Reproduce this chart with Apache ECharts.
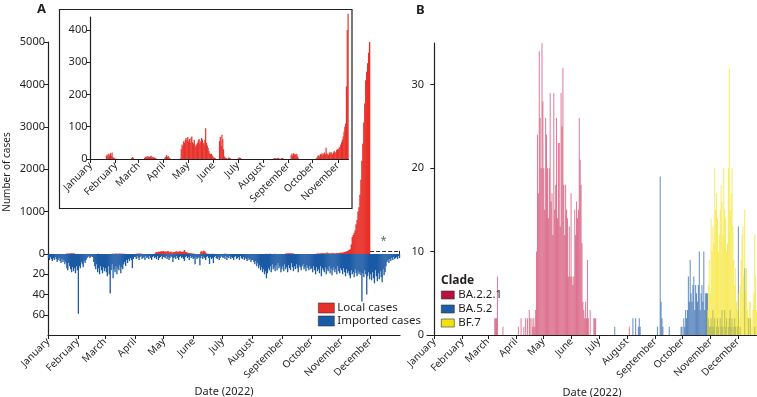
<!DOCTYPE html>
<html>
<head>
<meta charset="utf-8">
<script src="https://cdn.jsdelivr.net/npm/echarts@6/dist/echarts.min.js"></script>
<style>
  html, body { margin: 0; padding: 0; background: #fff; }
  #main { width: 757px; height: 397px; }
</style>
</head>
<body>
<div id="main"></div>
<script>
var chart = echarts.init(document.getElementById('main'));

// month names and first day of each month (day index in 2022)
var months = ['January', 'February', 'March', 'April', 'May', 'June', 'July',
  'August', 'September', 'October', 'November', 'December'];
var monthStart = [0, 31, 59, 90, 120, 151, 181, 212, 243, 273, 304, 334];

// daily local cases, one list per month
var localCases = [
  [0,0,0,0,0,0,0,0,0,0,0,0,0,0,0,0,0,0,0,10,14,8,16,12,18,10,20,6,4,2,1],
  [1,0,0,0,0,0,0,0,0,0,0,0,0,0,0,0,0,0,0,2,6,3,0,0,0,0,0,0],
  [0,0,0,0,0,0,0,3,6,8,5,9,7,6,8,10,7,5,6,4,3,2,0,0,0,0,0,0,0,0,0],
  [0,4,8,12,6,9,5,3,0,0,0,0,0,0,0,0,0,0,0,0,2,30,45,40,55,50,60,65,58,68],
  [55,62,50,66,70,52,48,60,42,38,45,50,58,62,48,55,65,60,50,45,60,95,50,42,35,25,18,15,16,12,8],
  [5,4,2,0,0,0,0,55,68,40,75,62,30,8,5,3,2,0,4,5,3,0,0,0,0,0,0,0,0,0],
  [2,5,4,3],
  [0,0,0,0,0,0,0,0,0,0,0,0,0,2,3,2,0,3,4,2,0,0,2,3,2],
  [0,0,0,12,16,10,18,14,15,12,16,8,2],
  [0,0,0,0,2,5,10,12,8,15,14,18,12,16,20,14,35,18,15,12,20,16,22,18,14,20,25,18,22,28,30],
  [30,35,38,45,52,60,70,85,100,110,225,400,450,500,560,700,800,1000,1100,1400,1750,2200,2600,3100,3550,4100,4300,4500,4750,5040],
  []
];

// daily imported cases, one list per month
var importedCases = [
  [4,6,3,5,7,4,6,3,5,8,6,4,7,9,5,8,6,10,8,14,16,9,12,15,18,13,17,14,19,12,16],
  [59,12,14,8,10,13,7,9,6,4,3,2,4,3,2,3,8,12,15,10,18,14,20,12,16,19,13,17],
  [14,18,22,12,20,39,16,10,24,15,18,12,20,14,16,11,19,13,15,10,8,12,6,9,5,7,4,6,14,5,3],
  [3,5,2,4,6,3,2,5,4,3,6,2,4,3,5,2,4,6,3,2,4,3,5,2,6,4,3,2,5,3],
  [3,4,2,5,3,6,4,2,3,8,4,3,5,2,4,6,3,2,4,3,5,7,3,2,4,3,6,2,4,3,5],
  [4,10,3,5,4,3,11,4,2,5,3,4,6,3,2,4,10,3,5,4,9,3,2,4,5,3,6,4,2,3],
  [4,3,5,2,6,3,4,2,5,3,4,6,3,2,5,4,3,6,2,4,5,3,6,4,5,7,4,6,5,8,6],
  [6,8,10,7,12,9,14,11,16,13,18,15,20,17,24,19,14,16,12,18,10,15,13,17,11,16,9,14,12,18,15],
  [12,17,10,15,13,18,11,14,16,9,13,17,12,15,10,14,18,11,13,16,12,10,15,13,17,11,14,16,12,15],
  [14,18,12,16,20,13,17,15,19,12,22,14,16,18,13,20,15,17,12,19,14,21,16,13,18,15,20,12,17,19,14],
  [16,20,14,18,22,15,19,17,21,24,16,20,18,23,15,19,22,17,20,18,21,47,19,23,16,20,40,22,18,25],
  [20,26,18,24,29,16,22,27,19,25,17,23,28,15,21,18,12,8,6,9,5,7,4,6,3,5,4,3,5,2,4]
];

// daily sequenced cases by clade, one list per month
var ba221 = [
  [], [],
  [0,0,0,0,0,0,0,2,2,2,7,0,0,0,0,0,1],
  [0,0,1,0,0,2,0,0,1,0,2,0,2,0,3,2,0,2,1,2,1,3,10,24,17,34,26,20,35,28],
  [20,15,26,24,20,14,20,29,16,17,12,29,15,18,26,14,23,23,13,29,25,32,18,12,18,15,14,7,13,7,17],
  [7,6,7,15,12,16,14,15,26,21,18,11,4,3,2,4,2,9,2,0,3,0,0,0,2,2,2],
  [],
  [0,0,1],
  [], [], [], []
];
var ba52 = [
  [], [], [], [], [], [],
  [0,0,0,0,0,0,0,0,0,0,0,0,0,0,0,0,0,1],
  [0,0,0,0,0,0,2,0,0,2,0,0,1,2,1],
  [0,0,1,0,0,19,4,2,1,0,0,0,0,0,0,1,0,0,0,0,0,0,0,0,0,0,0,0,1,1],
  [0,2,1,3,2,3,7,4,9,5,4,6,7,3,6,5,4,6,10,3,5,6,4,10,3,5,5,5,2,1,1],
  [2,1,3,1,2,0,1,2,1,0,2,1,3,1,0,3,1,2,0,1,2,3,1,2,0,1,2,1,0,1],
  [13,0,1,0,0,0,0,8,0,0,0,2,0,2,0,0,0,0,1]
];
var bf7 = [
  [], [], [], [], [], [], [], [], [],
  [0,0,0,0,0,0,0,0,0,0,0,0,0,0,0,0,0,0,0,0,0,0,0,0,0,0,0,3,6,9,5],
  [14,10,13,11,20,15,17,14,10,12,15,18,16,12,20,15,14,10,11,20,32,15,17,20,13,9,6,8,4,3],
  [5,2,6,9,12,13,7,15,5,8,3,2,4,4,2,1,3,5,12,7,3]
];

// [day, value] pairs for the bars, centred on each day
function toPoints(byMonth) {
  var pts = [];
  byMonth.forEach(function(days, m) {
    days.forEach(function(v, i) {
      if (v > 0) pts.push([monthStart[m] + i + 0.5, v]);
    });
  });
  return pts;
}

var font = 'Noto Sans';
var ink = '#231f20';
var axisLine = { show: true, lineStyle: { color: ink, width: 1.2 } };

function monthAxis(gridIndex, min, max, ticks, opts) {
  var ax = {
    type: 'value', gridIndex: gridIndex, min: min, max: max,
    splitLine: { show: false },
    axisLine: { show: true, onZero: false, lineStyle: { color: ink, width: 1.2 } },
    axisTick: { show: true, length: 4, customValues: ticks, lineStyle: { color: ink } },
    axisLabel: {
      customValues: ticks, rotate: 45, margin: 5,
      fontFamily: font, fontSize: 10, color: ink,
      formatter: function(v) { return months[monthStart.indexOf(v)]; }
    }
  };
  return Object.assign(ax, opts || {});
}

function countAxis(gridIndex, max, labels, opts) {
  var ax = {
    type: 'value', gridIndex: gridIndex, min: 0, max: max,
    splitLine: { show: false },
    axisLine: axisLine,
    axisTick: { show: true, length: 4, customValues: labels, lineStyle: { color: ink } },
    axisLabel: {
      customValues: labels, margin: 3, fontFamily: font, fontSize: 11, color: ink,
      formatter: function(v) { return String(v); }
    }
  };
  return Object.assign(ax, opts || {});
}

function gridAt(left, top, width, height) {
  return { left: left, top: top, width: width, height: height,
    containLabel: false, outerBoundsMode: 'none' };
}

var localPts = toPoints(localCases);
var dateName = {
  name: 'Date (2022)', nameLocation: 'middle', nameGap: 51,
  nameTextStyle: { fontFamily: font, fontSize: 11, color: ink }
};

option = {
  animation: false,
  backgroundColor: '#fff',
  title: [
    { text: 'A', left: 32, top: -2, textStyle: { fontFamily: font, fontSize: 13, fontWeight: 'bold', color: ink } },
    { text: 'B', left: 411, top: -1, textStyle: { fontFamily: font, fontSize: 13, fontWeight: 'bold', color: ink } },
    { text: 'Clade', left: 436, top: 270, textStyle: { fontFamily: font, fontSize: 12, fontWeight: 'bold', color: ink } }
  ],
  legend: [
    {
      data: ['Local cases', 'Imported cases'],
      orient: 'vertical', left: 313, top: 297,
      itemWidth: 16, itemHeight: 10, itemGap: 1, icon: 'rect',
      selectedMode: false,
      itemStyle: { borderColor: '#333', borderWidth: 0.6 },
      textStyle: { fontFamily: font, fontSize: 11.5, color: ink, padding: [0, 0, 0, -2] }
    },
    {
      data: [
        { name: 'BA.2.2.1', itemStyle: { color: '#b8123e', opacity: 1 } },
        { name: 'BA.5.2', itemStyle: { color: '#1f5ca8', opacity: 1 } },
        { name: 'BF.7', itemStyle: { color: '#f5e00f', opacity: 1 } }
      ],
      orient: 'vertical', left: 436, top: 284,
      itemWidth: 13, itemHeight: 8, itemGap: 2, icon: 'rect',
      selectedMode: false,
      itemStyle: { borderColor: '#333', borderWidth: 0.6 },
      textStyle: { fontFamily: font, fontSize: 11.5, color: ink, padding: [0, 0, 0, -1] }
    }
  ],
  graphic: [
    {
      type: 'rect', shape: { x: 59.5, y: 9.5, width: 292.5, height: 199 },
      style: { fill: 'none', stroke: ink, lineWidth: 1.2 }, z: 0
    },
    {
      type: 'text', x: 7, y: 172, rotation: Math.PI / 2,
      style: { text: 'Number of cases', fontFamily: font, fontSize: 10, fill: ink,
        textAlign: 'center', textVerticalAlign: 'middle' }
    }
  ],
  grid: [
    gridAt(48, 42, 352, 212),
    gridAt(48, 254, 352, 81),
    gridAt(90.5, 17, 258, 142),
    gridAt(427, 43, 330, 292)
  ],
  xAxis: [
    { type: 'value', gridIndex: 0, min: 0, max: 365, show: false },
    monthAxis(1, 0, 365, monthStart, dateName),
    monthAxis(2, 0, 317, monthStart.slice(0, 11)),
    monthAxis(3, -8, 355, monthStart, dateName)
  ],
  yAxis: [
    countAxis(0, 5000, [0, 1000, 2000, 3000, 4000, 5000]),
    countAxis(1, 80, [20, 40, 60], { inverse: true }),
    countAxis(2, 440, [0, 100, 200, 300, 400]),
    countAxis(3, 35, [0, 10, 20, 30])
  ],
  series: [
    {
      name: 'Local cases', type: 'bar', xAxisIndex: 0, yAxisIndex: 0,
      barWidth: 1.4, itemStyle: { color: '#e8302a' },
      data: localPts,
      markLine: {
        silent: true, symbol: 'none', label: { show: false },
        lineStyle: { type: 'dashed', color: '#333', width: 1 },
        data: [
          [{ coord: [334, 75] }, { coord: [364.5, 75] }],
          [{ coord: [364.5, 75] }, { coord: [364.5, 0] }]
        ]
      },
      markPoint: {
        silent: true, symbol: 'circle', symbolSize: 1,
        itemStyle: { color: 'transparent' },
        label: { show: true, formatter: '*', color: '#666', fontSize: 11, fontFamily: font },
        data: [{ coord: [348, 300] }]
      }
    },
    {
      name: 'Imported cases', type: 'bar', xAxisIndex: 1, yAxisIndex: 1,
      barWidth: 1.3, itemStyle: { color: '#1b5aa5' },
      data: toPoints(importedCases)
    },
    {
      name: 'Local (inset)', type: 'bar', xAxisIndex: 2, yAxisIndex: 2,
      barWidth: 1.2, clip: false, itemStyle: { color: '#e8302a' },
      data: localPts.filter(function(p) { return p[0] < 317; })
    },
    {
      name: 'BA.2.2.1', type: 'bar', xAxisIndex: 3, yAxisIndex: 3,
      barWidth: 1.0, barGap: '-100%', itemStyle: { color: '#c8184a', opacity: 0.58 },
      data: toPoints(ba221)
    },
    {
      name: 'BA.5.2', type: 'bar', xAxisIndex: 3, yAxisIndex: 3,
      barWidth: 1.0, barGap: '-100%', itemStyle: { color: '#1f5ca8', opacity: 0.7 },
      data: toPoints(ba52)
    },
    {
      name: 'BF.7', type: 'bar', xAxisIndex: 3, yAxisIndex: 3,
      barWidth: 1.0, barGap: '-100%', itemStyle: { color: '#f5e00f', opacity: 0.65 },
      data: toPoints(bf7)
    }
  ]
};

chart.setOption(option);
</script>
</body>
</html>
